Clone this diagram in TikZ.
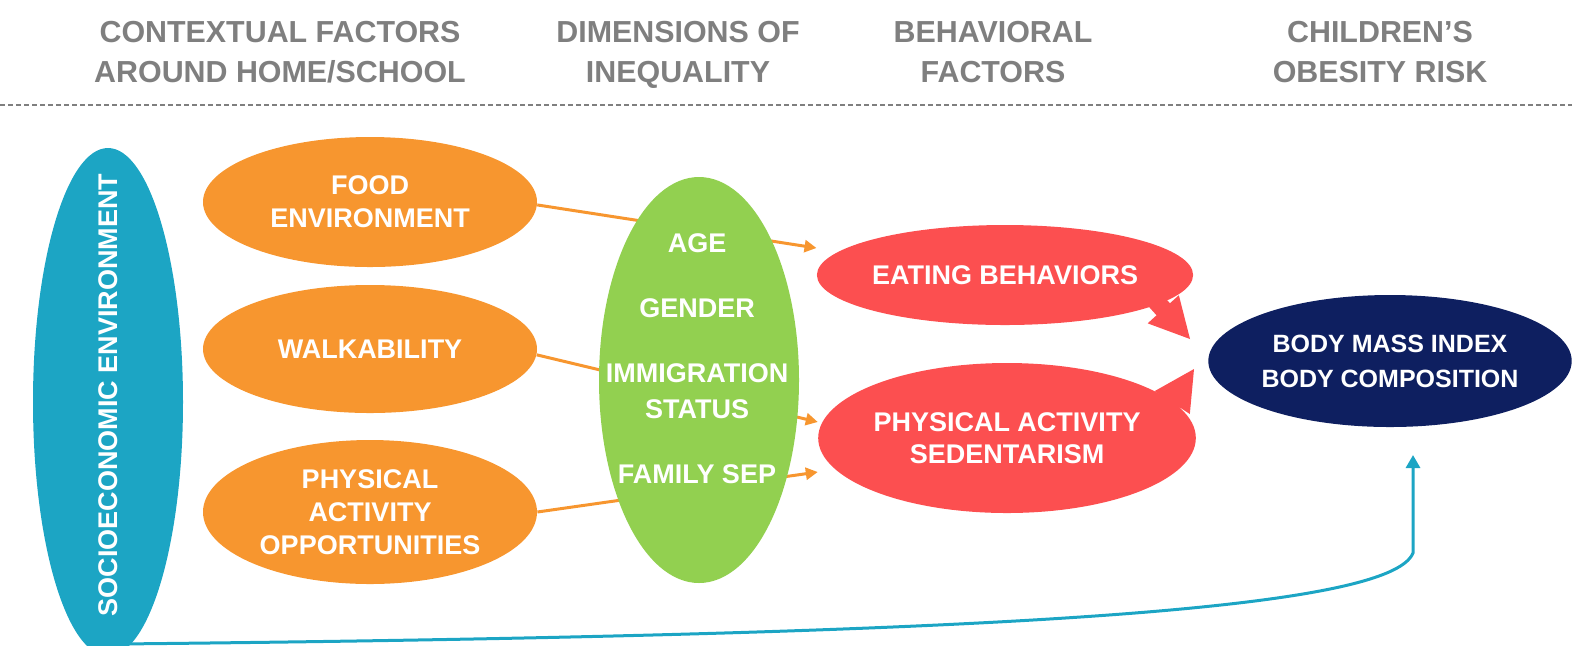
\documentclass[tikz,border=0pt]{standalone}
\usepackage{fontspec}
\setmainfont{Liberation Sans}
\usetikzlibrary{shapes.geometric,arrows.meta,backgrounds}

\definecolor{headgray}{HTML}{7F7F7F}
\definecolor{socioblue}{HTML}{1CA5C4}
\definecolor{ctxorange}{HTML}{F7962F}
\definecolor{ineqgreen}{HTML}{92D050}
\definecolor{behavred}{HTML}{FC4F50}
\definecolor{bminavy}{HTML}{0E1F60}

\newcommand{\blockarrow}[2]% tip, angle
{
 \begin{scope}[shift={(#1)},rotate=#2]
  \fill[behavred] (0,0) -- (-40,21) -- (-40,9) -- (-54,9)
   -- (-54,-9) -- (-40,-9) -- (-40,-21) -- cycle;
 \end{scope}
}

\begin{document}
\begin{tikzpicture}[x=0.5pt,y=-0.5pt,
 head/.style={text=headgray,align=center,text depth=0pt,font=\bfseries\fontsize{15.2}{20}\selectfont},
 blob/.style={ellipse,draw=none,inner sep=0pt,text=white,align=center},
 ctx/.style={blob,fill=ctxorange,minimum width=167pt,font=\bfseries\fontsize{13.5}{16.5}\selectfont},
 behav/.style={blob,fill=behavred,font=\bfseries\fontsize{13.5}{16}\selectfont},
 ctxarrow/.style={ctxorange,line width=1.5pt,-{Triangle[length=6pt,width=6pt]}},
 riskarrow/.style={socioblue,line width=1.5pt,-{Triangle[length=6.5pt,width=7pt]}}]

\useasboundingbox (0,0) rectangle (1572,645);

% column heads
\node[head] (hctx) at (280,52) {CONTEXTUAL FACTORS\\AROUND HOME/SCHOOL};
\node[head] (hineq) at (678,52) {DIMENSIONS OF\\INEQUALITY};
\node[head] (hbehav) at (993,52) {BEHAVIORAL\\FACTORS};
\node[head] (hrisk) at (1380,52) {CHILDREN’S\\OBESITY RISK};
\draw[headgray,line width=1pt,dash pattern=on 2.5pt off 1.5pt] (0,105) -- (1572,105);

% socioeconomic
\node[blob,fill=socioblue,minimum width=75pt,minimum height=254pt] (socio) at (108,402) {};
\node[rotate=90,text=white,font=\bfseries\fontsize{13.5}{16}\selectfont] (sociotext) at (108,395)
 {SOCIOECONOMIC ENVIRONMENT};

% context
\node[ctx,minimum height=65pt] (food) at (370,202) {FOOD\\ENVIRONMENT};
\node[ctx,minimum height=64pt] (walk) at (370,349) {WALKABILITY};
\node[ctx,minimum height=72pt] (pao) at (370,512) {PHYSICAL\\ACTIVITY\\OPPORTUNITIES};

% inequality
\node[blob,fill=ineqgreen,minimum width=100pt,minimum height=203pt] (ineq) at (699,380) {};
\node[text=white,align=center,font=\bfseries\fontsize{13.5}{18}\selectfont] (ineqtext) at (697,359)
 {AGE\\[14.5pt]GENDER\\[14.5pt]IMMIGRATION\\STATUS\\[14.5pt]FAMILY SEP};

% behaviours and risk
\node[behav,minimum width=160pt,minimum height=50pt] (eat) at (1005,275) {EATING BEHAVIORS};
\node[behav,minimum width=161pt,minimum height=75pt] (pa) at (1007,438) {PHYSICAL ACTIVITY\\SEDENTARISM};
\node[blob,fill=bminavy,minimum width=178pt,minimum height=66pt,
 font=\bfseries\fontsize{12.5}{17.5}\selectfont] (bmi) at (1390,361) {BODY MASS INDEX\\BODY COMPOSITION};

\begin{scope}[on background layer]
 \draw[ctxarrow] (food.-1) -- ([yshift=13.5pt]eat.west);
 \draw[ctxarrow] (walk.-2) -- ([yshift=8pt]pa.west);
 \draw[ctxarrow] (pao.east) -- ([yshift=-17pt]pa.west);
\end{scope}

\coordinate (eattip) at (1190,339);
\coordinate (patip) at (1194,369);
\blockarrow{eattip}{-48}
\blockarrow{patip}{57}

\coordinate (sociofoot) at (118,644);
\coordinate (bmibend) at (1413,553);
\coordinate (bmifoot) at (1413,455);
\draw[riskarrow] (sociofoot) .. controls (1000,635) and (1390,610) .. (bmibend) -- (bmifoot);

\end{tikzpicture}
\end{document}
